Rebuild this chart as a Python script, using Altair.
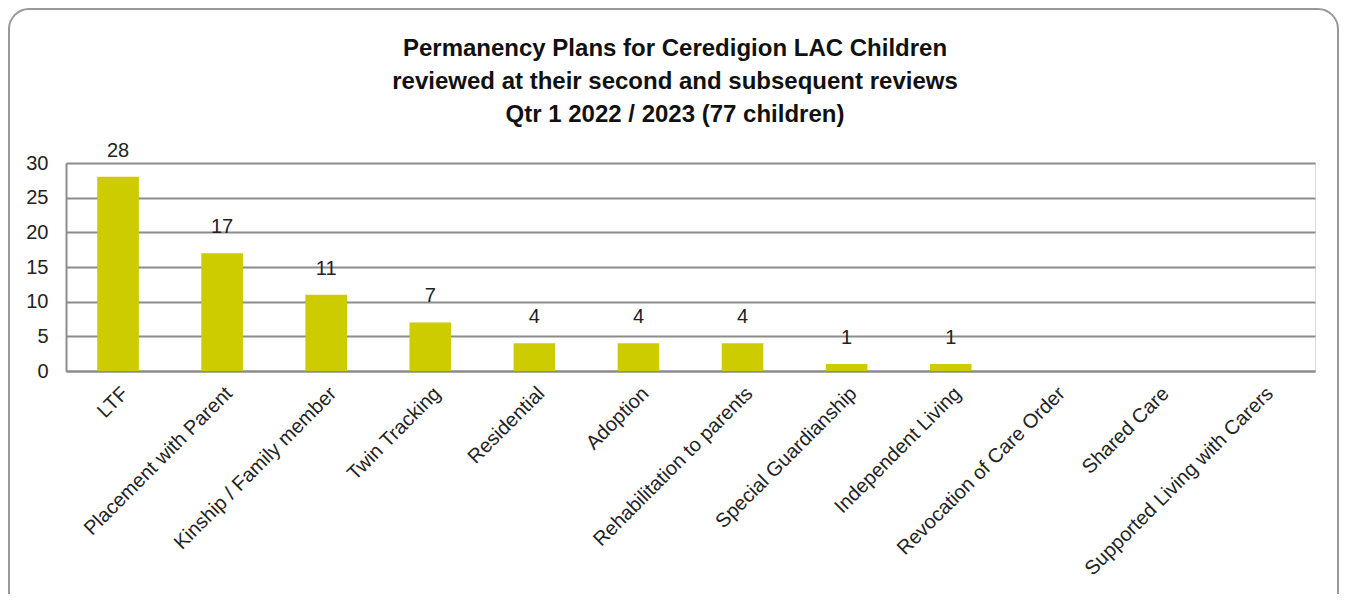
import altair as alt
import pandas as pd

categories = ["LTF", "Placement with Parent", "Kinship / Family member", "Twin Tracking",
              "Residential", "Adoption", "Rehabilitation to parents", "Special Guardianship",
              "Independent Living", "Revocation of Care Order", "Shared Care",
              "Supported Living with Carers"]
values = [28, 17, 11, 7, 4, 4, 4, 1, 1, 0, 0, 0]
y_ticks = [0, 5, 10, 15, 20, 25, 30]
title_lines = ["Permanency Plans for Ceredigion LAC Children",
               "reviewed  at their second and subsequent reviews",
               "Qtr 1 2022 / 2023  (77 children)"]

df = pd.DataFrame({"category": categories, "value": values})
FONT = "Liberation Sans, Arial, sans-serif"

base = alt.Chart(df)

x_enc = alt.X("category:N", sort=categories, title=None,
              scale=alt.Scale(paddingInner=0.6, paddingOuter=0.3),
              axis=alt.Axis(labelAngle=-45, labelFontSize=20, labelFont=FONT,
                            labelColor="#222", ticks=False, labelPadding=12,
                            labelLimit=0, labelOverlap=False,
                            domainColor="#8c8c8c", domainWidth=2, grid=False))
y_enc = alt.Y("value:Q", title=None,
              scale=alt.Scale(domain=[0, 30], nice=False),
              axis=alt.Axis(values=y_ticks, labelFontSize=20,
                            labelFont=FONT, labelColor="#222", ticks=False,
                            labelOverlap=False, labelPadding=18,
                            domainColor="#8c8c8c", domainWidth=2,
                            gridColor="#8c8c8c", gridWidth=2))

bars = base.mark_bar(color="#CCCC00").encode(x=x_enc, y=y_enc)
labels = base.transform_filter("datum.value > 0").mark_text(
    baseline="bottom", dy=-16, fontSize=20, font=FONT, color="#222"
).encode(x=x_enc, y=y_enc, text="value:Q")

one = alt.Data(values=[{}])
frame = alt.Chart(one).mark_rect(
    fill=None, stroke="#999999", strokeWidth=2, cornerRadius=20, clip=False
).encode(x=alt.value(-57), x2=alt.value(1272), y=alt.value(-154), y2=alt.value(470))

title = alt.Chart(one).mark_text(
    text=title_lines, fontSize=24, font=FONT, fontWeight="bold", color="#111",
    align="center", baseline="alphabetic", lineHeight=33
).encode(x=alt.value(609), y=alt.value(-107))

chart = alt.layer(frame, title, bars, labels).properties(
    width=1249, height=208,
    autosize=alt.AutoSizeParams(type="none"),
    padding={"left": 58, "top": 155, "right": 26, "bottom": 223},
).configure_view(stroke=None).configure(background="white")

chart.save("out.html", embed_options={"renderer": "svg", "actions": False})
